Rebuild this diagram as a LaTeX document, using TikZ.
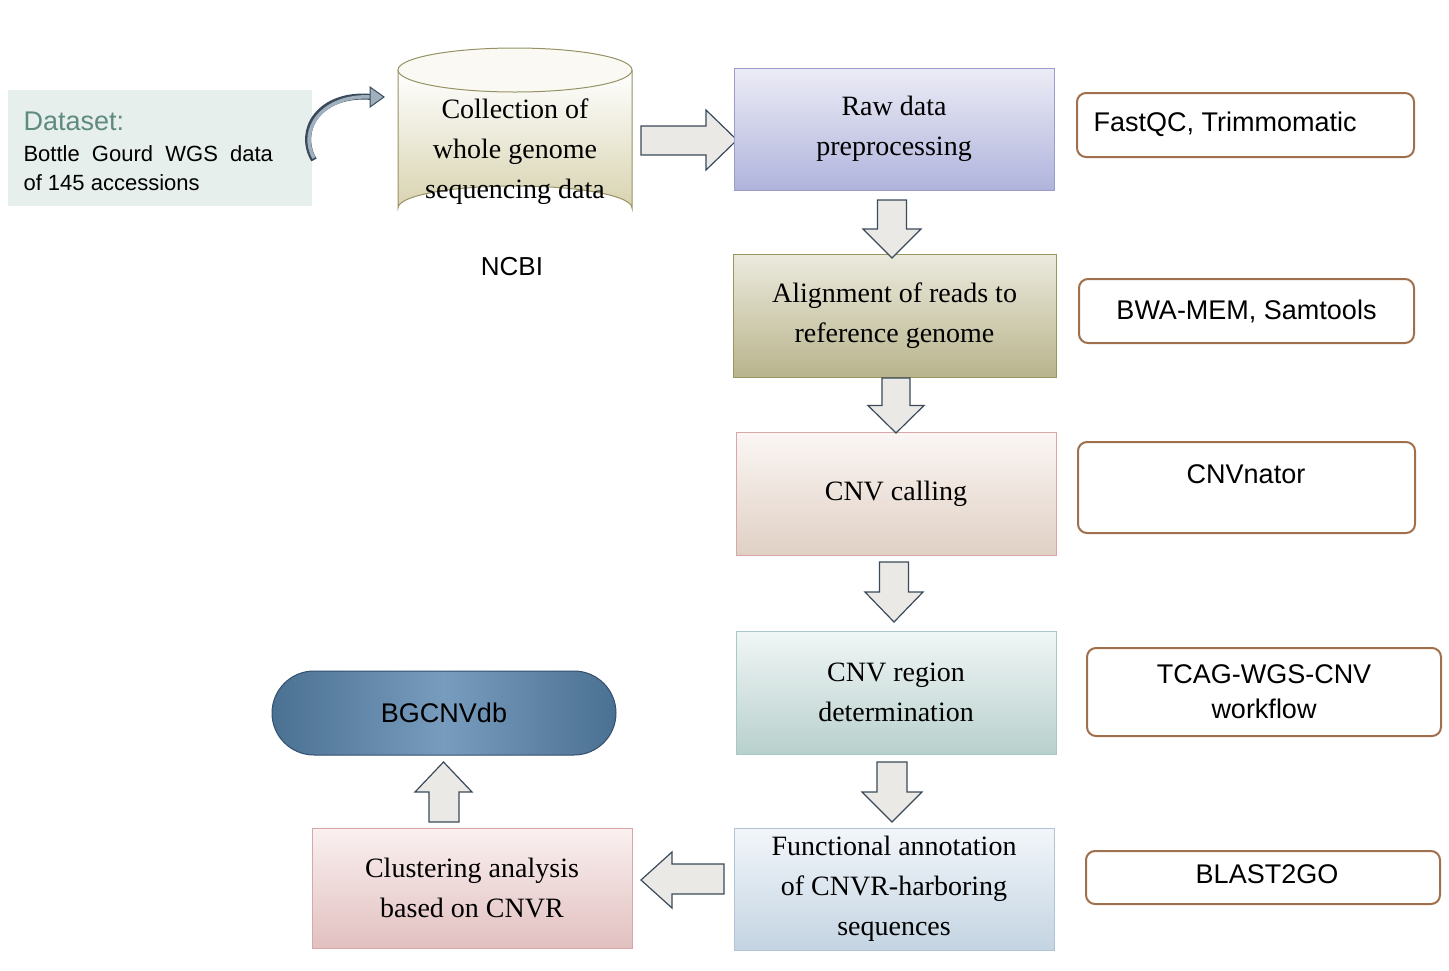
\documentclass[tikz,border=0pt]{standalone}
\usepackage{fontspec}
\setmainfont{Liberation Serif}
\setsansfont{Liberation Sans}
\usetikzlibrary{shapes.geometric}
\definecolor{brn}{HTML}{A0704C}
\definecolor{arrf}{HTML}{EBE9E6}
\definecolor{arrd}{HTML}{3A4A5A}
\definecolor{curvf}{RGB}{160,176,190}
\definecolor{dsf}{RGB}{230,239,236}
\definecolor{dst}{RGB}{95,138,128}
\tikzset{
 stepbox/.style={draw,line width=1pt,align=center,font=\fontsize{28}{40}\selectfont},
 tool/.style={draw=brn,line width=2pt,rounded corners=9pt,font=\sffamily\fontsize{27}{35}\selectfont,align=center},
 barrow/.style={fill=arrf,draw=arrd,line width=1.2pt,line join=miter},
}
\newcommand{\downarr}[4]{% x1 x2 ytop ybot
 \pgfmathsetmacro{\dwid}{#2-#1}\pgfmathsetmacro{\dq}{\dwid*0.25}
 \pgfmathsetmacro{\dmid}{#3+(#4-#3)*0.5}
 \draw[barrow] (#1+\dq,#3) -- (#2-\dq,#3) -- (#2-\dq,\dmid) -- (#2,\dmid) -- ({(#1+#2)/2},#4) -- (#1,\dmid) -- (#1+\dq,\dmid) -- cycle;}
\begin{document}
\begin{tikzpicture}[x=1pt,y=-1pt]
\useasboundingbox (0,0) rectangle (1449,970);
% dataset
\fill[dsf] (8,90) rectangle (312,206);
\node[anchor=west,font=\sffamily\fontsize{27}{30}\selectfont,text=dst] (ds) at (20,121) {Dataset:};
\node[anchor=west,font=\sffamily\fontsize{22}{29}\selectfont,align=left] (dstx) at (20,168) {Bottle\ \ Gourd\ \ WGS\ \ data\\of 145 accessions};
% curved arrow
\draw[line width=6pt,draw=arrd] (314,160) .. controls (296,130) and (320,92) .. (372,97);
\draw[line width=3.5pt,draw=curvf] (314,158) .. controls (298,130) and (322,94) .. (372,97);
\fill[curvf,draw=arrd,line width=1pt] (370,87) -- (384,97) -- (370,107) -- cycle;
% cylinder
\shade[top color=white,bottom color={rgb,255:red,216;green,211;blue,176}] (398,70) -- (398,208) arc[start angle=180,end angle=360,x radius=117,y radius=22] -- (632,70) arc[start angle=0,end angle=180,x radius=117,y radius=22];
\draw[line width=1pt,draw={rgb,255:red,150;green,146;blue,100}] (398,70) -- (398,208) arc[start angle=180,end angle=360,x radius=117,y radius=22] -- (632,70);
\draw[line width=1pt,draw={rgb,255:red,150;green,146;blue,100},fill={rgb,255:red,250;green,249;blue,244}] (515,70) ellipse[x radius=117,y radius=22];
\node[align=center,font=\fontsize{28}{40}\selectfont] (coll) at (515,152) {Collection of\\whole genome\\sequencing data};
\node[font=\sffamily\fontsize{26}{30}\selectfont] (ncbi) at (512,267) {NCBI};
% right arrow
\draw[barrow] (641,126) -- (706,126) -- (706,110) -- (737,140) -- (706,170) -- (706,155) -- (641,155) -- cycle;
% steps
\node[stepbox,minimum width=320pt,minimum height=122pt,draw={rgb,255:red,154;green,156;blue,204},top color={rgb,255:red,236;green,236;blue,246},bottom color={rgb,255:red,176;green,180;blue,220}] (raw) at (894,129) {Raw data\\preprocessing};
\node[stepbox,minimum width=323pt,minimum height=123pt,draw={rgb,255:red,154;green,150;blue,96},top color={rgb,255:red,236;green,234;blue,222},bottom color={rgb,255:red,184;green,180;blue,140}] (aln) at (894.5,315.5) {Alignment of\ reads to\\reference genome};
\node[stepbox,minimum width=320pt,minimum height=123pt,draw={rgb,255:red,216;green,168;blue,168},top color={rgb,255:red,251;green,246;blue,244},bottom color={rgb,255:red,224;green,208;blue,196}] (cnv) at (896,493.5) {CNV calling};
\node[stepbox,minimum width=320pt,minimum height=123pt,draw={rgb,255:red,168;green,200;blue,200},top color={rgb,255:red,240;green,246;blue,246},bottom color={rgb,255:red,184;green,208;blue,204}] (reg) at (896,692.5) {CNV region\\determination};
\node[stepbox,minimum width=320pt,minimum height=122pt,draw={rgb,255:red,176;green,196;blue,212},top color={rgb,255:red,242;green,246;blue,250},bottom color={rgb,255:red,196;green,212;blue,226}] (fun) at (894,889) {Functional annotation\\of\ CNVR-harboring\\sequences};
\node[stepbox,minimum width=320pt,minimum height=120pt,draw={rgb,255:red,216;green,168;blue,168},top color={rgb,255:red,250;green,240;blue,240},bottom color={rgb,255:red,226;green,192;blue,192}] (clu) at (472,888) {Clustering analysis\\based on CNVR};
\node[draw={rgb,255:red,50;green,80;blue,110},line width=1pt,rounded corners=42pt,minimum width=344pt,minimum height=84pt,left color={rgb,255:red,74;green,112;blue,146},right color={rgb,255:red,74;green,112;blue,146},middle color={rgb,255:red,120;green,156;blue,190},font=\sffamily\fontsize{27}{30}\selectfont] (db) at (444,713) {BGCNVdb};
% arrows
\downarr{863}{921}{200}{258}
\downarr{868}{924}{378}{433}
\downarr{865}{923}{562}{622}
\downarr{862}{922}{762}{822}
\draw[barrow] (724,864) -- (672,864) -- (672,852) -- (641,880) -- (672,908) -- (672,894) -- (724,894) -- cycle;
\draw[barrow] (429,822) -- (459,822) -- (459,792) -- (472,792) -- (443.5,762) -- (415,792) -- (429,792) -- cycle;
% tools
\node[tool,minimum width=337pt,minimum height=64pt] (t1) at (1245.5,125) {};
\node[anchor=west,font=\sffamily\fontsize{27}{30}\selectfont] (t1t) at (1090,124) {FastQC, Trimmomatic};
\node[tool,minimum width=335pt,minimum height=64pt] (t2) at (1246.5,311) {BWA-MEM, Samtools};
\node[tool,minimum width=337pt,minimum height=91pt] (t3) at (1246.5,487.5) {};
\node[font=\sffamily\fontsize{27}{30}\selectfont] (t3t) at (1246,474) {CNVnator};
\node[tool,minimum width=354pt,minimum height=88pt] (t4) at (1264,692) {TCAG-WGS-CNV\\workflow};
\node[tool,minimum width=354pt,minimum height=53pt] (t5) at (1263,877.5) {};
\node[font=\sffamily\fontsize{27}{30}\selectfont] (t5t) at (1267,874) {BLAST2GO};
\end{tikzpicture}
\end{document}
